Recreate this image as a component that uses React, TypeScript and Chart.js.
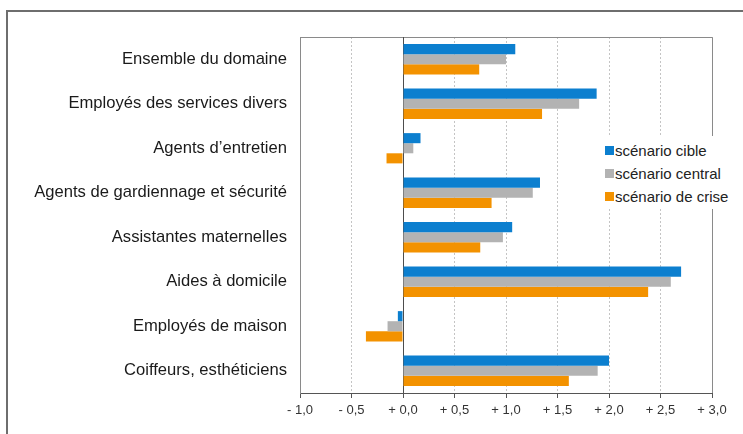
import React, { useEffect, useRef } from 'react';
import { Chart, registerables } from 'chart.js';
Chart.register(...registerables);

const categories = [
  'Ensemble du domaine',
  'Employés des services divers',
  'Agents d’entretien',
  'Agents de gardiennage et sécurité',
  'Assistantes maternelles',
  'Aides à domicile',
  'Employés de maison',
  'Coiffeurs, esthéticiens',
];
const seriesNames = ['scénario cible', 'scénario central', 'scénario de crise'];
const cible = [1.09, 1.88, 0.17, 1.33, 1.06, 2.70, -0.05, 2.00];
const central = [1.00, 1.71, 0.10, 1.26, 0.97, 2.60, -0.15, 1.89];
const crise = [0.74, 1.35, -0.16, 0.86, 0.75, 2.38, -0.36, 1.61];
const seriesColors = ['#0C7FCF', '#B3B3B3', '#F39200'];
const xMin = -1;
const xMax = 3;
const xStep = 0.5;

const fmtTick = (v: number) => (v < 0 ? '- ' : '+ ') + Math.abs(v).toFixed(1).replace('.', ',');

const framePlugin = {
  id: 'frameAndZero',
  beforeDatasetsDraw(chart: any) {
    const { ctx, chartArea, scales } = chart;
    ctx.save();
    ctx.strokeStyle = '#8a8a8a';
    ctx.lineWidth = 1;
    ctx.beginPath();
    ctx.moveTo(chartArea.left, chartArea.top + 0.5);
    ctx.lineTo(chartArea.right + 0.5, chartArea.top + 0.5);
    ctx.lineTo(chartArea.right + 0.5, chartArea.bottom);
    ctx.stroke();
    const x0 = Math.round(scales.x.getPixelForValue(0)) + 0.5;
    ctx.strokeStyle = '#4d4d4d';
    ctx.beginPath();
    ctx.moveTo(x0, chartArea.top);
    ctx.lineTo(x0, chartArea.bottom);
    ctx.stroke();
    ctx.restore();
  },
};

export default function App() {
  const ref = useRef<HTMLCanvasElement>(null);
  useEffect(() => {
    if (!ref.current) return;
    const data = [cible, central, crise];
    const chart = new Chart(ref.current, {
      type: 'bar',
      data: {
        labels: categories,
        datasets: seriesNames.map((n, i) => ({
          label: n,
          data: data[i],
          backgroundColor: seriesColors[i],
          borderWidth: 0,
          barPercentage: 1,
          categoryPercentage: 0.68,
        })),
      },
      options: {
        indexAxis: 'y',
        animation: false,
        responsive: false,
        devicePixelRatio: 1,
        layout: { padding: { left: 0, top: 37, right: 31, bottom: 0 } },
        plugins: { legend: { display: false }, tooltip: { enabled: false } },
        scales: {
          x: {
            min: xMin,
            max: xMax,
            ticks: {
              stepSize: xStep,
              callback: (v: any) => fmtTick(Number(v)),
              font: { family: 'Liberation Sans', size: 13 },
              color: '#333',
              padding: 5,
              maxRotation: 0,
            },
            grid: {
              color: '#c4c4c4',
              lineWidth: 1,
              drawTicks: true,
              tickLength: 5,
              tickColor: '#555',
            },
            border: { display: true, color: '#555', width: 1, dash: [2, 2] },
            afterFit: (s: any) => { s.height = 41; },
          },
          y: {
            grid: { display: false, drawTicks: false },
            border: { display: true, color: '#8a8a8a', width: 1 },
            ticks: {
              font: { family: 'Liberation Sans', size: 16.6 },
              color: '#1a1a1a',
              padding: 13,
            },
            afterFit: (s: any) => { s.width = 300; },
          },
        },
      },
      plugins: [framePlugin],
    } as any);
    return () => chart.destroy();
  }, []);

  return (
    <div style={{ position: 'absolute', left: 0, top: 0, width: 743, height: 434, overflow: 'hidden', background: '#fff' }}>
      <div style={{ position: 'absolute', left: 6, top: 10, width: 800, height: 500, border: '2px solid #6e6e6e', boxSizing: 'border-box' }} />
      <canvas ref={ref} width={743} height={434} style={{ position: 'absolute', left: 0, top: 0, width: 743, height: 434 }} />
      <div style={{ position: 'absolute', left: 598, top: 136, width: 145, height: 73, background: '#fff' }}>
        {seriesNames.map((n, i) => (
          <div key={n} style={{ position: 'absolute', left: 7, top: 4 + i * 23, height: 20, display: 'flex', alignItems: 'center', fontFamily: 'Liberation Sans', fontSize: 15, color: '#222', whiteSpace: 'nowrap' }}>
            <span style={{ display: 'inline-block', width: 9, height: 9, background: seriesColors[i], marginRight: 1 }} />
            {n}
          </div>
        ))}
      </div>
    </div>
  );
}
